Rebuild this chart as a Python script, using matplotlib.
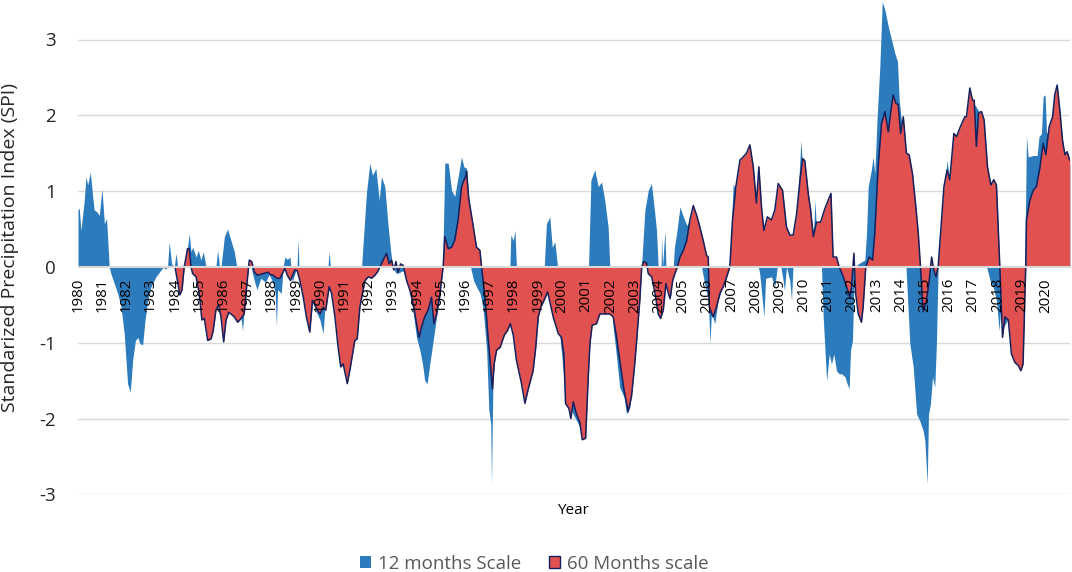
import matplotlib
matplotlib.use("Agg")
import matplotlib.pyplot as plt
from matplotlib.patches import Patch

plt.rcParams['font.family'] = ['Open Sans', 'DejaVu Sans']

# ---------------- data ----------------
# 12-month SPI (decimal year, value)
t12 = [1980.00, 1980.05, 1980.12, 1980.25, 1980.33, 1980.40, 1980.51, 1980.61, 1980.67, 1980.77,
       1980.88, 1980.99, 1981.09, 1981.18, 1981.29, 1981.36, 1981.50, 1981.64, 1981.78, 1981.91,
       1982.05, 1982.16, 1982.26, 1982.37, 1982.47, 1982.56, 1982.67, 1982.77, 1982.88, 1983.02,
       1983.22, 1983.43, 1983.53, 1983.61, 1983.70, 1983.77, 1983.87, 1983.98, 1984.05, 1984.12,
       1984.20, 1984.35, 1984.46, 1984.60, 1984.67, 1984.74, 1984.88, 1984.97, 1985.08, 1985.18,
       1985.29, 1985.40, 1985.55, 1985.70, 1985.77, 1985.85, 1985.91, 1986.05, 1986.18, 1986.32,
       1986.46, 1986.56, 1986.65, 1986.80, 1986.87, 1986.97, 1987.05, 1987.15, 1987.30, 1987.40,
       1987.55, 1987.75, 1987.90, 1988.05, 1988.15, 1988.20, 1988.25, 1988.40, 1988.48, 1988.55,
       1988.65, 1988.76, 1988.80, 1988.85, 1989.00, 1989.05, 1989.10, 1989.13, 1989.15, 1989.30,
       1989.45, 1989.58, 1989.70, 1989.86, 1990.00, 1990.13, 1990.20, 1990.33, 1990.38, 1990.43,
       1990.55, 1990.75, 1991.00, 1991.13, 1991.30, 1991.50, 1991.65, 1991.72, 1991.92, 1992.06,
       1992.17, 1992.31, 1992.45, 1992.54, 1992.68, 1992.82, 1992.92, 1993.00, 1993.16, 1993.44,
       1993.72, 1993.88, 1993.99, 1994.13, 1994.24, 1994.33, 1994.43, 1994.54, 1994.68, 1994.82,
       1994.96, 1995.07, 1995.16, 1995.30, 1995.44, 1995.57, 1995.71, 1995.85, 1995.95, 1996.06,
       1996.15, 1996.22, 1996.35, 1996.50, 1996.62, 1996.75, 1996.89, 1996.98, 1997.06, 1997.09,
       1997.15, 1997.25, 1997.40, 1997.60, 1997.80, 1997.85, 1997.89, 1997.99, 1998.06, 1998.12,
       1998.20, 1998.47, 1998.65, 1998.85, 1999.05, 1999.22, 1999.27, 1999.36, 1999.50, 1999.60,
       1999.71, 1999.82, 1999.90, 2000.15, 2000.40, 2000.80, 2001.00, 2001.05, 2001.10, 2001.20,
       2001.36, 2001.50, 2001.64, 2001.77, 2001.91, 2001.98, 2002.12, 2002.26, 2002.39, 2002.57,
       2002.67, 2002.81, 2002.98, 2003.10, 2003.22, 2003.29, 2003.43, 2003.57, 2003.70, 2003.81,
       2003.91, 2003.98, 2004.05, 2004.10, 2004.12, 2004.16, 2004.22, 2004.26, 2004.30, 2004.40,
       2004.50, 2004.60, 2004.65, 2004.74, 2004.88, 2005.02, 2005.16, 2005.30, 2005.43, 2005.57,
       2005.70, 2005.77, 2005.90, 2006.05, 2006.12, 2006.18, 2006.32, 2006.45, 2006.60, 2006.80,
       2006.94, 2007.08, 2007.20, 2007.36, 2007.60, 2007.77, 2007.91, 2008.04, 2008.12, 2008.18,
       2008.35, 2008.42, 2008.66, 2008.80, 2008.90, 2009.05, 2009.12, 2009.20, 2009.28, 2009.42,
       2009.49, 2009.55, 2009.70, 2009.88, 2009.95, 2010.10, 2010.28, 2010.40, 2010.46, 2010.52,
       2010.65, 2010.73, 2010.80, 2010.94, 2011.05, 2011.14, 2011.24, 2011.35, 2011.46, 2011.56,
       2011.70, 2011.79, 2011.87, 2011.93, 2012.01, 2012.07, 2012.12, 2012.25, 2012.52, 2012.59,
       2012.66, 2012.79, 2012.86, 2012.93, 2013.03, 2013.14, 2013.24, 2013.35, 2013.49, 2013.62,
       2013.76, 2013.87, 2013.94, 2014.04, 2014.17, 2014.22, 2014.38, 2014.52, 2014.66, 2014.79,
       2014.93, 2015.00, 2015.10, 2015.15, 2015.23, 2015.32, 2015.41, 2015.48, 2015.55, 2015.65,
       2015.79, 2015.92, 2016.03, 2016.20, 2016.47, 2016.65, 2016.72, 2016.86, 2017.04, 2017.34,
       2017.50, 2017.55, 2017.70, 2017.82, 2017.96, 2018.07, 2018.12, 2018.25, 2018.50, 2018.80,
       2019.00, 2019.10, 2019.13, 2019.20, 2019.27, 2019.48, 2019.64, 2019.72, 2019.82, 2019.89,
       2019.97, 2020.03, 2020.14, 2020.37, 2020.47, 2020.58, 2020.79, 2020.99]
v12 = [0.75, 0.78, 0.48, 0.85, 1.19, 1.08, 1.25, 0.92, 0.75, 0.73,
       0.68, 1.03, 0.57, 0.64, 0.00, -0.09, -0.22, -0.35, -0.53, -0.88,
       -1.54, -1.65, -1.23, -0.97, -0.93, -1.01, -1.03, -0.70, -0.44, -0.26,
       -0.13, -0.04, 0.00, -0.03, 0.00, 0.33, 0.04, 0.00, 0.18, 0.00,
       -0.30, 0.00, 0.10, 0.44, 0.20, 0.26, 0.13, 0.22, 0.09, 0.20,
       0.00, -0.70, -0.60, 0.00, 0.22, 0.00, 0.00, 0.40, 0.50, 0.35,
       0.20, 0.00, -0.45, -0.84, -0.55, -0.15, 0.05, 0.00, -0.20, -0.30,
       -0.15, -0.20, -0.10, -0.20, -0.35, -0.78, -0.30, -0.35, 0.00, 0.13,
       0.10, 0.13, 0.00, -0.20, -0.05, 0.00, 0.37, 0.00, -0.10, -0.35,
       -0.60, -0.80, -0.45, -0.60, -0.70, -0.88, -0.55, 0.00, 0.20, 0.00,
       -0.40, -0.90, -1.10, -1.30, -1.10, -0.80, -0.30, 0.00, 0.97, 1.37,
       1.21, 1.30, 0.88, 1.19, 1.06, 0.53, 0.22, 0.00, -0.09, -0.05,
       -0.31, -0.66, -0.93, -1.10, -1.28, -1.50, -1.54, -1.28, -0.97, -0.66,
       -0.40, 0.00, 1.37, 1.37, 1.01, 0.93, 1.19, 1.45, 1.32, 1.30,
       0.90, 0.00, -0.18, -0.28, -0.35, -0.57, -1.10, -1.89, -2.07, -2.86,
       -1.50, -1.10, -1.00, -0.85, -0.70, 0.00, 0.42, 0.35, 0.48, 0.00,
       -1.30, -1.70, -1.50, -1.20, -0.60, -0.30, 0.00, 0.57, 0.66, 0.26,
       0.33, 0.00, -0.85, -1.70, -1.90, -2.15, -2.10, -1.60, 0.00, 1.15,
       1.28, 1.06, 1.12, 0.88, 0.53, 0.00, -0.80, -1.19, -1.59, -1.72,
       -1.94, -1.85, -1.35, -0.90, -0.40, 0.00, 0.75, 1.01, 1.10, 0.79,
       0.48, 0.00, -0.55, 0.00, 0.40, 0.00, 0.30, 0.48, 0.00, -0.30,
       -0.38, 0.00, 0.26, 0.44, 0.79, 0.66, 0.55, 0.60, 0.78, 0.65,
       0.45, 0.00, -0.22, -0.44, -1.01, -0.60, -0.75, -0.45, -0.30, -0.15,
       0.00, 1.10, 1.00, 1.30, 1.40, 1.50, 1.20, 0.70, 0.00, -0.10,
       -0.66, -0.15, -0.13, -0.26, 0.00, 0.00, -0.13, -0.31, 0.00, -0.18,
       -0.44, 0.00, 0.60, 1.67, 1.30, 1.20, 0.70, 0.45, 0.88, 0.50,
       0.30, 0.00, -0.66, -1.50, -1.15, -1.28, -1.15, -1.37, -1.41, -1.41,
       -1.45, -1.54, -1.61, -1.10, -0.97, -0.22, 0.00, 0.04, 0.09, 0.44,
       1.06, 1.28, 1.45, 1.23, 1.98, 2.64, 3.50, 3.39, 3.17, 3.00,
       2.82, 2.71, 2.20, 1.90, 1.20, 0.00, -1.01, -1.32, -1.94, -2.03,
       -2.16, -2.29, -2.86, -1.95, -1.81, -1.45, -1.59, -1.00, 0.00, 0.40,
       1.00, 1.41, 1.10, 1.70, 1.80, 1.90, 1.92, 2.30, 2.15, 2.00,
       1.50, 0.00, -0.18, -0.26, -0.44, -0.84, -0.60, -0.80, -0.65, -1.20,
       -1.30, -0.80, 0.00, 1.72, 1.45, 1.47, 1.47, 1.72, 1.76, 2.25,
       2.27, 1.76, 1.80, 2.20, 2.30, 2.00, 1.40, 1.35]

# 60-month SPI (decimal year, value)
t60 = [1984.01, 1984.21, 1984.30, 1984.39, 1984.53, 1984.60, 1984.67, 1984.74, 1984.88, 1985.01,
       1985.12, 1985.22, 1985.36, 1985.50, 1985.59, 1985.70, 1985.81, 1985.91, 1986.02, 1986.12,
       1986.23, 1986.32, 1986.46, 1986.60, 1986.74, 1986.87, 1986.97, 1987.08, 1987.18, 1987.29,
       1987.42, 1987.63, 1987.84, 1987.95, 1988.07, 1988.21, 1988.35, 1988.55, 1988.65, 1988.78,
       1988.96, 1989.06, 1989.17, 1989.31, 1989.44, 1989.58, 1989.69, 1989.86, 1990.00, 1990.13,
       1990.24, 1990.38, 1990.48, 1990.62, 1990.75, 1990.86, 1990.96, 1991.13, 1991.26, 1991.44,
       1991.54, 1991.65, 1991.86, 1992.00, 1992.13, 1992.27, 1992.37, 1992.48, 1992.61, 1992.75,
       1992.86, 1992.96, 1993.05, 1993.14, 1993.23, 1993.33, 1993.44, 1993.58, 1993.72, 1993.88,
       1993.99, 1994.10, 1994.20, 1994.33, 1994.47, 1994.61, 1994.71, 1994.82, 1994.96, 1995.09,
       1995.16, 1995.30, 1995.44, 1995.57, 1995.71, 1995.85, 1995.92, 1996.03, 1996.06, 1996.15,
       1996.33, 1996.47, 1996.61, 1996.68, 1996.82, 1996.95, 1997.09, 1997.13, 1997.20, 1997.30,
       1997.45, 1997.62, 1997.75, 1997.87, 1997.99, 1998.12, 1998.33, 1998.47, 1998.61, 1998.81,
       1998.92, 1999.02, 1999.13, 1999.25, 1999.41, 1999.54, 1999.64, 1999.85, 1999.98, 2000.08,
       2000.15, 2000.29, 2000.37, 2000.47, 2000.60, 2000.74, 2000.84, 2000.98, 2001.09, 2001.16,
       2001.25, 2001.43, 2001.57, 2001.85, 2001.98, 2002.12, 2002.26, 2002.39, 2002.57, 2002.74,
       2002.88, 2003.01, 2003.08, 2003.22, 2003.30, 2003.38, 2003.50, 2003.57, 2003.71, 2003.85,
       2003.98, 2004.08, 2004.19, 2004.30, 2004.40, 2004.47, 2004.58, 2004.67, 2004.77, 2004.88,
       2005.02, 2005.16, 2005.29, 2005.43, 2005.57, 2005.70, 2005.84, 2005.98, 2006.05, 2006.09,
       2006.25, 2006.39, 2006.53, 2006.67, 2006.81, 2006.94, 2007.05, 2007.19, 2007.36, 2007.49,
       2007.63, 2007.77, 2007.91, 2008.04, 2008.14, 2008.25, 2008.35, 2008.49, 2008.66, 2008.80,
       2008.94, 2009.12, 2009.28, 2009.42, 2009.56, 2009.70, 2009.84, 2009.95, 2010.04, 2010.18,
       2010.28, 2010.39, 2010.52, 2010.69, 2010.87, 2011.01, 2011.12, 2011.21, 2011.35, 2011.46,
       2011.63, 2011.76, 2011.90, 2011.97, 2012.07, 2012.14, 2012.25, 2012.38, 2012.45, 2012.56,
       2012.70, 2012.84, 2012.93, 2013.07, 2013.21, 2013.35, 2013.49, 2013.60, 2013.69, 2013.80,
       2013.90, 2014.00, 2014.11, 2014.24, 2014.35, 2014.49, 2014.63, 2014.73, 2014.82, 2014.93,
       2015.07, 2015.18, 2015.28, 2015.37, 2015.46, 2015.55, 2015.65, 2015.79, 2015.92, 2016.03,
       2016.20, 2016.31, 2016.47, 2016.65, 2016.72, 2016.86, 2016.97, 2017.04, 2017.13, 2017.22,
       2017.34, 2017.45, 2017.59, 2017.73, 2017.85, 2017.96, 2018.10, 2018.21, 2018.31, 2018.45,
       2018.58, 2018.72, 2018.86, 2018.97, 2019.06, 2019.13, 2019.17, 2019.20, 2019.34, 2019.48,
       2019.61, 2019.75, 2019.89, 2020.00, 2020.14, 2020.28, 2020.37, 2020.47, 2020.58, 2020.69,
       2020.79, 2020.88, 2020.99]
v60 = [0.00, -0.37, -0.30, 0.00, 0.24, 0.24, 0.00, -0.09, -0.13, -0.35,
       -0.70, -0.68, -0.97, -0.95, -0.84, -0.57, -0.50, -0.66, -0.99, -0.70,
       -0.60, -0.62, -0.66, -0.73, -0.68, -0.62, -0.26, 0.09, 0.07, -0.07,
       -0.11, -0.09, -0.07, -0.10, -0.11, -0.15, -0.15, -0.02, -0.11, -0.18,
       -0.04, -0.05, -0.18, -0.40, -0.66, -0.86, -0.44, -0.55, -0.62, -0.53,
       -0.57, -0.26, -0.35, -0.66, -1.06, -1.32, -1.28, -1.54, -1.32, -0.97,
       -0.95, -0.53, -0.18, -0.13, -0.15, -0.11, -0.07, 0.00, 0.09, 0.18,
       0.04, 0.09, -0.04, 0.07, -0.07, 0.04, 0.02, -0.18, -0.31, -0.53,
       -0.75, -0.93, -0.79, -0.66, -0.57, -0.40, -0.75, -0.62, -0.35, 0.00,
       0.40, 0.24, 0.26, 0.35, 0.62, 1.05, 1.12, 1.20, 1.26, 0.90,
       0.55, 0.26, 0.22, 0.00, -0.40, -0.93, -1.45, -1.61, -1.28, -1.10,
       -1.06, -0.90, -0.84, -0.75, -0.90, -1.23, -1.54, -1.80, -1.61, -1.37,
       -1.06, -0.66, -0.53, -0.45, -0.33, -0.52, -0.66, -0.88, -0.93, -1.15,
       -1.80, -1.87, -2.00, -1.78, -1.94, -2.05, -2.28, -2.26, -1.45, -1.01,
       -0.77, -0.75, -0.62, -0.62, -0.62, -0.66, -0.93, -1.23, -1.63, -1.91,
       -1.70, -1.28, -1.01, -0.44, 0.00, 0.07, 0.05, -0.09, -0.13, -0.35,
       -0.62, -0.68, -0.57, -0.22, -0.35, -0.42, -0.18, -0.09, 0.00, 0.13,
       0.22, 0.35, 0.62, 0.81, 0.68, 0.53, 0.35, 0.15, 0.13, -0.53,
       -0.66, -0.53, -0.35, -0.26, -0.13, 0.00, 0.62, 1.06, 1.41, 1.45,
       1.50, 1.61, 1.32, 0.84, 1.32, 0.79, 0.48, 0.66, 0.62, 0.75,
       1.10, 1.01, 0.53, 0.42, 0.42, 0.70, 1.15, 1.43, 1.40, 0.97,
       0.75, 0.40, 0.59, 0.59, 0.77, 0.88, 0.97, 0.13, 0.13, 0.00,
       -0.13, -0.26, -0.40, -0.26, 0.18, -0.35, -0.62, -0.73, -0.53, 0.00,
       0.13, 0.09, 0.44, 1.32, 1.89, 2.05, 1.78, 2.07, 2.27, 2.16,
       2.14, 1.76, 1.98, 1.50, 1.48, 1.23, 0.79, 0.44, 0.00, -0.59,
       -0.44, -0.18, 0.13, -0.04, -0.13, 0.00, 0.44, 1.06, 1.28, 1.15,
       1.76, 1.72, 1.85, 1.98, 1.98, 2.36, 2.20, 2.20, 1.59, 2.03,
       2.05, 1.94, 1.32, 1.08, 1.15, 1.08, 0.00, -0.93, -0.66, -0.70,
       -1.15, -1.26, -1.30, -1.37, -1.28, -0.44, 0.00, 0.62, 0.88, 1.01,
       1.06, 1.30, 1.63, 1.48, 1.85, 1.98, 2.27, 2.40, 2.07, 1.67,
       1.48, 1.52, 1.41]

years = list(range(1980, 2021))
year_labels = [str(y) for y in years]
y_ticks = [-3, -2, -1, 0, 1, 2, 3]
y_labels = ['-3', '-2', '-1', '0', '1', '2', '3']
series_names = ['12 months Scale', '60 Months scale']

# ---------------- style ----------------
BLUE = '#2b7bbd'
RED = '#e0514f'
EDGE = '#15205c'
GRID = '#d9d9d9'

W, H = 1072, 572
fig = plt.figure(figsize=(W / 100, H / 100), dpi=100)
ax = fig.add_axes([78 / W, (H - 494.3) / H, 992 / W, 492.7 / H])
ax.set_xlim(1980, 2021)
ax.set_ylim(-3, 3.5)

for yv in y_ticks:
    if yv != 0:
        ax.axhline(yv, color=GRID, lw=1.0, zorder=0)

ax.fill_between(t12, 0, v12, color=BLUE, lw=0, zorder=2)
ax.fill_between(t60, 0, v60, color=RED, lw=0, zorder=3)
ax.plot(t60, v60, color=EDGE, lw=1.1, zorder=4)
ax.axhline(0, color=GRID, lw=1.5, zorder=5)

for s in ax.spines.values():
    s.set_visible(False)
ax.spines['bottom'].set_position(('data', 0))

ax.set_yticks(y_ticks)
ax.set_yticklabels(y_labels)
ax.tick_params(axis='y', length=0, pad=16, labelsize=13.5, labelcolor='#262626')

ax.set_xticks(years)
ax.set_xticklabels(year_labels, rotation=90)
ax.tick_params(axis='x', length=0, pad=8, labelsize=10.8, labelcolor='#000000')
ax.xaxis.set_zorder(6)

fig.text(10 / W, 1 - 248 / H, 'Standarized Precipitation Index (SPI)', rotation=90,
         ha='center', va='center', fontsize=14, color='#262626')
fig.text(573 / W, 1 - 510 / H, 'Year', ha='center', va='center', fontsize=11, color='#000000')

handles = [Patch(facecolor=BLUE, edgecolor='none'),
           Patch(facecolor=RED, edgecolor=EDGE, linewidth=1.0)]
fig.legend(handles, series_names, loc='center', bbox_to_anchor=(534 / W, 1 - 564 / H),
           ncol=2, frameon=False, fontsize=13.5, handlelength=0.6, handleheight=0.6,
           handletextpad=0.35, columnspacing=1.5, labelcolor='#595959')

fig.savefig('out.png', dpi=100)
